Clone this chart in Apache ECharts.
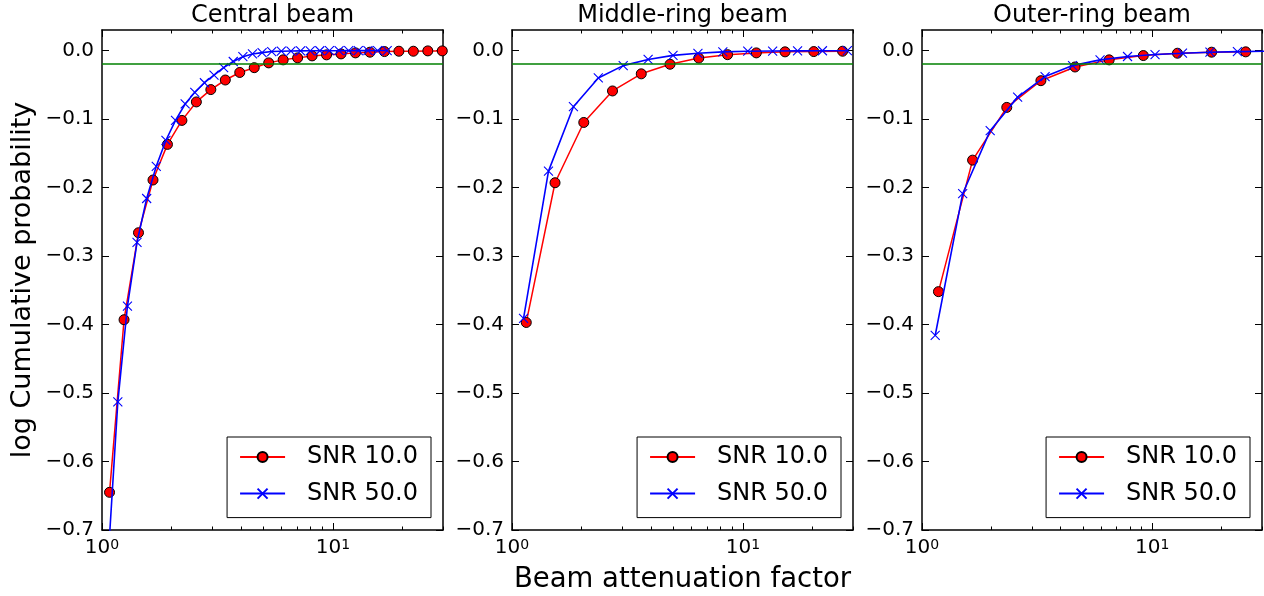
<!DOCTYPE html>
<html><head><meta charset="utf-8">
<script src="https://cdn.jsdelivr.net/npm/echarts@6/dist/echarts.min.js"></script>
<style>html,body{margin:0;padding:0;background:#fff}#c{width:1264px;height:596px}</style>
</head><body><div id="c"></div><script>
// ---- data ----
const panelTitles = ['Central beam', 'Middle-ring beam', 'Outer-ring beam'];
const seriesNames = ['SNR 10.0', 'SNR 50.0'];
const xAxisName = 'Beam attenuation factor';
const yAxisName = 'log Cumulative probability';
const yTicks = [-0.7, -0.6, -0.5, -0.4, -0.3, -0.2, -0.1, 0.0];
const xMajorTicks = [1, 10];
const xMinorTicks = [2, 3, 4, 5, 6, 7, 8, 9, 20, 30];
const threshold = -0.0228;

const centralX10 = [1.078, 1.246, 1.439, 1.663, 1.921, 2.219, 2.563, 2.961, 3.421, 3.951, 4.565, 5.273, 6.092, 7.037, 8.130, 9.391, 10.85, 12.53, 14.48, 16.73, 19.32, 22.32, 25.78, 29.79];
const centralY10 = [-0.645, -0.393, -0.266, -0.189, -0.137, -0.102, -0.075, -0.057, -0.043, -0.032, -0.025, -0.018, -0.0136, -0.0107, -0.0078, -0.0063, -0.0049, -0.0034, -0.0024, -0.0015, -0.001, -0.001, -0.0005, -0.0005];
const centralX50 = [1.064, 1.171, 1.289, 1.418, 1.561, 1.718, 1.892, 2.082, 2.292, 2.523, 2.777, 3.056, 3.364, 3.703, 4.076, 4.486, 4.938, 5.435, 5.982, 6.585, 7.248, 7.978, 8.781, 9.665, 10.64, 11.71, 12.89, 14.19, 15.62, 17.19];
const centralY50 = [-0.74, -0.513, -0.373, -0.280, -0.216, -0.169, -0.131, -0.102, -0.078, -0.061, -0.047, -0.036, -0.025, -0.016, -0.009, -0.005, -0.003, -0.0015, -0.001, -0.0007, -0.0005, -0.0004, -0.0003, -0.0002, -0.0002, -0.0001, -0.0001, -0.0001, 0, 0];

const midX10 = [1.153, 1.536, 2.046, 2.725, 3.630, 4.836, 6.443, 8.584, 11.44, 15.23, 20.29, 27.04];
const midY10 = [-0.397, -0.193, -0.105, -0.059, -0.034, -0.020, -0.011, -0.006, -0.0034, -0.0019, -0.0015, -0.001];
const midX50 = [1.122, 1.439, 1.845, 2.365, 3.032, 3.887, 4.983, 6.388, 8.190, 10.50, 13.46, 17.26, 22.12, 28.36];
const midY50 = [-0.391, -0.176, -0.082, -0.040, -0.022, -0.013, -0.007, -0.004, -0.002, -0.001, -0.0007, -0.0005, -0.0003, -0.0002];

const outX10 = [1.179, 1.659, 2.335, 3.285, 4.622, 6.504, 9.151, 12.88, 18.12, 25.49];
const outY10 = [-0.352, -0.160, -0.083, -0.044, -0.024, -0.0136, -0.0073, -0.0039, -0.0024, -0.0019];
const outX50 = [1.141, 1.502, 1.978, 2.603, 3.426, 4.510, 5.937, 7.815, 10.29, 13.54, 17.82, 23.46, 30.88];
const outY50 = [-0.416, -0.209, -0.117, -0.068, -0.038, -0.022, -0.0136, -0.0087, -0.0058, -0.0039, -0.0024, -0.0015, -0.001];

const panels = [
  [[centralX10, centralY10], [centralX50, centralY50]],
  [[midX10, midY10], [midX50, midY50]],
  [[outX10, outY10], [outX50, outY50]]
];

// ---- layout / style ----
const FONT = 'DejaVu Sans';
const gridBoxes = [
  {left: 102, top: 30, width: 341, height: 500},
  {left: 512, top: 30, width: 341, height: 500},
  {left: 922, top: 30, width: 340, height: 500}
];
const legendRight = [833, 423, 14];
const supMap = {'0': '0', '1': '1', '2': '2'};

const axisLineStyle = {color: '#000', width: 1.5};
const grids = [], xAxes = [], yAxes = [], series = [], legends = [];

gridBoxes.forEach((b, g) => {
  grids.push(Object.assign({outerBoundsMode: 'none', containLabel: false, show: false}, b));
  // bottom major
  const xMain = {
    type: 'log', logBase: 10, gridIndex: g, position: 'bottom', min: 1, max: 30,
    axisLine: {show: true, onZero: false, lineStyle: axisLineStyle},
    axisTick: {show: true, inside: true, length: 7, customValues: xMajorTicks, lineStyle: {color: '#000', width: 1}},
    axisLabel: {
      show: true, customValues: xMajorTicks, margin: 8, color: '#000',
      formatter: v => '{b|10}{s|' + supMap[String(Math.round(Math.log10(v)))] + '}',
      rich: {
        b: {fontFamily: FONT, fontSize: 20, color: '#000', verticalAlign: 'bottom'},
        s: {fontFamily: FONT, fontSize: 14, color: '#000', verticalAlign: 'top'}
      }
    },
    splitLine: {show: false}, minorTick: {show: false}
  };
  if (g === 1) {
    Object.assign(xMain, {
      name: xAxisName, nameLocation: 'middle', nameGap: 36,
      nameTextStyle: {fontFamily: FONT, fontSize: 27.5, color: '#000'}
    });
  }
  xAxes.push(xMain);
  // bottom minor
  xAxes.push({
    type: 'log', logBase: 10, gridIndex: g, position: 'bottom', min: 1, max: 30,
    axisLine: {show: false, onZero: false},
    axisTick: {show: true, inside: true, length: 3.5, customValues: xMinorTicks, lineStyle: {color: '#000', width: 1}},
    axisLabel: {show: false}, splitLine: {show: false}
  });
  // top major (with panel title as name)
  xAxes.push({
    type: 'log', logBase: 10, gridIndex: g, position: 'top', min: 1, max: 30,
    axisLine: {show: true, onZero: false, lineStyle: axisLineStyle},
    axisTick: {show: true, inside: true, length: 7, customValues: xMajorTicks, lineStyle: {color: '#000', width: 1}},
    axisLabel: {show: false}, splitLine: {show: false},
    name: panelTitles[g], nameLocation: 'middle', nameGap: 2,
    nameTextStyle: {fontFamily: FONT, fontSize: 24, color: '#000'}
  });
  // top minor
  xAxes.push({
    type: 'log', logBase: 10, gridIndex: g, position: 'top', min: 1, max: 30,
    axisLine: {show: false, onZero: false},
    axisTick: {show: true, inside: true, length: 3.5, customValues: xMinorTicks, lineStyle: {color: '#000', width: 1}},
    axisLabel: {show: false}, splitLine: {show: false}
  });

  const yLeft = {
    type: 'value', gridIndex: g, position: 'left', min: -0.7, max: 0.03,
    axisLine: {show: true, onZero: false, lineStyle: axisLineStyle},
    axisTick: {show: true, inside: true, length: 7, customValues: yTicks, lineStyle: {color: '#000', width: 1}},
    axisLabel: {
      show: true, customValues: yTicks, margin: 8, color: '#000', fontFamily: FONT, fontSize: 20,
      formatter: v => (v < -1e-9 ? '\u2212' : '') + Math.abs(v).toFixed(1)
    },
    splitLine: {show: false}
  };
  if (g === 0) {
    Object.assign(yLeft, {
      name: yAxisName, nameLocation: 'middle', nameRotate: 90, nameGap: 66,
      nameTextStyle: {fontFamily: FONT, fontSize: 27, color: '#000'}
    });
  }
  yAxes.push(yLeft);
  yAxes.push({
    type: 'value', gridIndex: g, position: 'right', min: -0.7, max: 0.03,
    axisLine: {show: true, onZero: false, lineStyle: axisLineStyle},
    axisTick: {show: true, inside: true, length: 7, customValues: yTicks, lineStyle: {color: '#000', width: 1}},
    axisLabel: {show: false}, splitLine: {show: false}
  });

  const [[x10, y10], [x50, y50]] = panels[g];
  series.push({
    type: 'line', name: seriesNames[0], xAxisIndex: 4 * g, yAxisIndex: 2 * g,
    data: x10.map((x, i) => [x, y10[i]]),
    symbol: 'circle', symbolSize: 10, clip: true, z: 3,
    itemStyle: {color: '#ff0000', borderColor: '#000', borderWidth: 1},
    lineStyle: {color: '#ff0000', width: 1.5},
    emphasis: {disabled: true}, animation: false,
    markLine: {
      silent: true, symbol: 'none', animation: false,
      label: {show: false},
      lineStyle: {color: '#008000', width: 1.6, type: 'solid'},
      emphasis: {disabled: true},
      data: [{yAxis: threshold}]
    }
  });
  series.push({
    type: 'line', name: seriesNames[1], xAxisIndex: 4 * g, yAxisIndex: 2 * g,
    data: x50.map((x, i) => [x, y50[i]]),
    symbol: 'path://M0,0L9,9M9,0L0,9', symbolSize: 9, clip: true, z: 4,
    itemStyle: {color: '#0000ff', borderColor: '#0000ff', borderWidth: 1.1},
    lineStyle: {color: '#0000ff', width: 1.6},
    emphasis: {disabled: true}, animation: false
  });

  legends.push({
    data: seriesNames, orient: 'vertical', right: legendRight[g], top: 437,
    padding: [8, 13, 12, 12], itemWidth: 45, itemHeight: 12.5, itemGap: 12.6,
    borderColor: '#000', borderWidth: 1, backgroundColor: '#fff', borderRadius: 0,
    selectedMode: false,
    textStyle: {fontFamily: FONT, fontSize: 24, color: '#000', padding: [0, 0, 0, 17]}
  });
});

const chart = echarts.init(document.getElementById('c'), null, {renderer: 'canvas'});
chart.setOption({
  backgroundColor: '#fff',
  animation: false,
  textStyle: {fontFamily: FONT},
  grid: grids, xAxis: xAxes, yAxis: yAxes, series: series, legend: legends
});
</script></body></html>
